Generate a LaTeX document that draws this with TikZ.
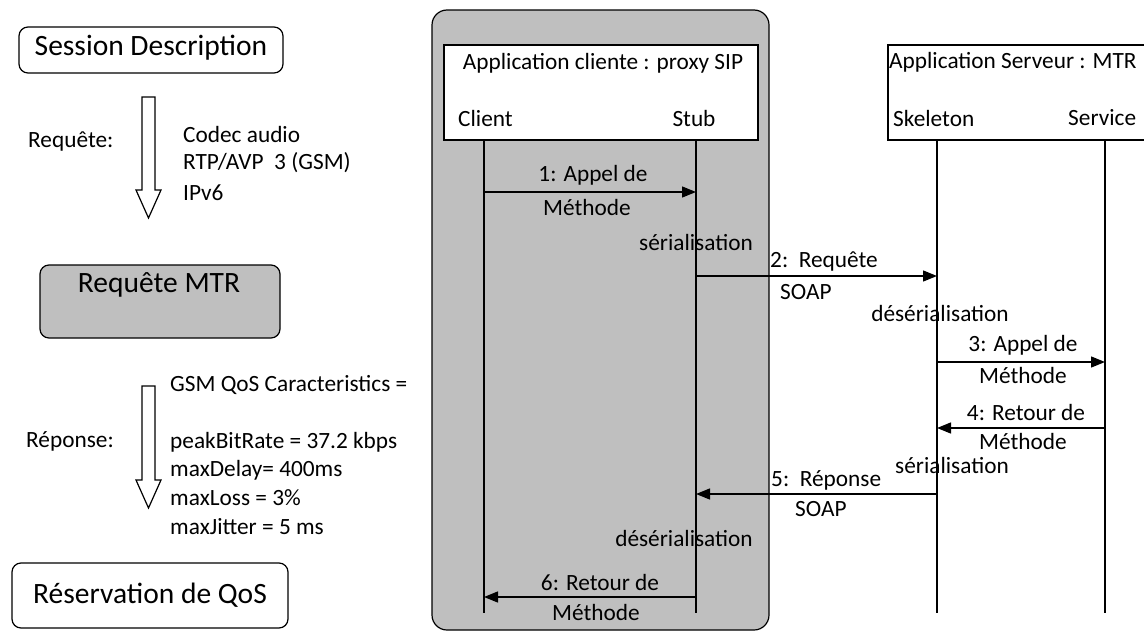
\documentclass[tikz,border=0pt]{standalone}
\usepackage{fontspec}
\setmainfont{Carlito}
\usetikzlibrary{arrows.meta}
\begin{document}
\begin{tikzpicture}[x=1pt,y=-1pt,
  sm/.style={font=\fontsize{23.3}{25}\selectfont,inner sep=0pt},
  big/.style={font=\fontsize{29.5}{32}\selectfont,inner sep=0pt},
  life/.style={line width=1.4pt},
  msg/.style={line width=1.4pt,-{Triangle[length=14pt,width=11pt]}},
  box/.style={draw,line width=1.2pt,rounded corners=9pt},
  hollow/.style={draw,line width=1.2pt,fill=white}]
\path[use as bounding box] (0,0) rectangle (1144,632);
% left column
\node[box,minimum width=264pt,minimum height=46pt] (sd) at (151,50) {};
\node[big] (sdt) at (151,48) {Session Description};
\path[hollow] (142,97) -- (155,97) -- (155,190) -- (161,190) -- (148.5,218) -- (136,190) -- (142,190) -- cycle;
\node[sm,anchor=west] (rq) at (28,142) {Requête:};
\node[sm,anchor=west] (ca) at (183,134) {Codec audio};
\node[sm,anchor=west] (rtp) at (183,163) {RTP/AVP\ \ 3 (GSM)};
\node[sm,anchor=west] (ip) at (183,193) {IPv6};
\node[box,fill=black!25,minimum width=240pt,minimum height=73pt] (mtr) at (160,301.5) {};
\node[big] (mtrt) at (159,285) {Requête MTR};
\path[hollow] (142,386) -- (155,386) -- (155,480) -- (161,480) -- (148.5,508) -- (136,480) -- (142,480) -- cycle;
\node[sm,anchor=west] (gsm) at (170,385) {GSM QoS Caracteristics =};
\node[sm,anchor=west] (rep) at (26,441) {Réponse:};
\node[sm,anchor=west] (pk) at (170,442) {peakBitRate = 37.2 kbps};
\node[sm,anchor=west] (md) at (170,470) {maxDelay= 400ms};
\node[sm,anchor=west] (ml) at (170,498) {maxLoss = 3\%};
\node[sm,anchor=west] (mj) at (170,527) {maxJitter = 5 ms};
\node[box,minimum width=276pt,minimum height=65pt] (res) at (150,595.5) {};
\node[big] (rest) at (150,595) {Réservation de QoS};
% client side
\draw[line width=1.2pt,fill=black!25,rounded corners=15pt] (432,10) rectangle (769,630);
\node[draw,line width=1.2pt,fill=white,minimum width=314pt,minimum height=95pt,inner sep=0pt] (cbox) at (601,92.5) {};
\node[sm] (ct) at (603,63) {Application cliente : proxy SIP};
\node[sm,anchor=west] (cl) at (458,118) {Client};
\node[sm] (st) at (694,118) {Stub};
% server side
\path[fill=white,draw,line width=1.2pt] (1144,45) -- (888,45) -- (888,140) -- (1144,140);
\node[sm,anchor=west] (stt) at (889,62) {Application Serveur : MTR};
\node[sm,anchor=west] (sk) at (893,118) {Skeleton};
\node[sm,anchor=west] (sv) at (1068,118) {Service};
% lifelines
\coordinate (c0) at (484,140); \coordinate (c9) at (484,613);
\coordinate (s0) at (696,140); \coordinate (s9) at (696,613);
\coordinate (k0) at (937,140); \coordinate (k9) at (937,613);
\coordinate (v0) at (1105,140); \coordinate (v9) at (1105,613);
\draw[life] (c0) -- (c9);
\draw[life] (s0) -- (s9);
\draw[life] (k0) -- (k9);
\draw[life] (v0) -- (v9);
% messages
\coordinate (m1a) at (484,192); \coordinate (m1b) at (696,192);
\draw[msg] (m1a) -- (m1b);
\node[sm] (l1a) at (593,175) {1: Appel de};
\node[sm] (l1b) at (587,207) {Méthode};
\node[sm] (ser1) at (696,242) {sérialisation};
\coordinate (m2a) at (696,276); \coordinate (m2b) at (937,276);
\draw[msg] (m2a) -- (m2b);
\node[sm,anchor=west] (l2a) at (770,262) {2:\ \ Requête};
\node[sm,anchor=west] (l2b) at (780,292) {SOAP};
\node[sm] (des1) at (940,313) {désérialisation};
\coordinate (m3a) at (937,362); \coordinate (m3b) at (1105,362);
\draw[msg] (m3a) -- (m3b);
\node[sm] (l3a) at (1023,345) {3: Appel de};
\node[sm] (l3b) at (1023,375) {Méthode};
\coordinate (m4a) at (1105,428); \coordinate (m4b) at (937,428);
\draw[msg] (m4a) -- (m4b);
\node[sm] (l4a) at (1026,412) {4: Retour de};
\node[sm] (l4b) at (1023,441) {Méthode};
\node[sm] (ser2) at (952,465) {sérialisation};
\coordinate (m5a) at (937,494); \coordinate (m5b) at (696,494);
\draw[msg] (m5a) -- (m5b);
\node[sm,anchor=west] (l5a) at (771,480) {5:\ \ Réponse};
\node[sm,anchor=west] (l5b) at (795,509) {SOAP};
\node[sm] (des2) at (684,538) {désérialisation};
\coordinate (m6a) at (696,597); \coordinate (m6b) at (484,597);
\draw[msg] (m6a) -- (m6b);
\node[sm] (l6a) at (600,582) {6: Retour de};
\node[sm] (l6b) at (596,612) {Méthode};
\end{tikzpicture}
\end{document}
